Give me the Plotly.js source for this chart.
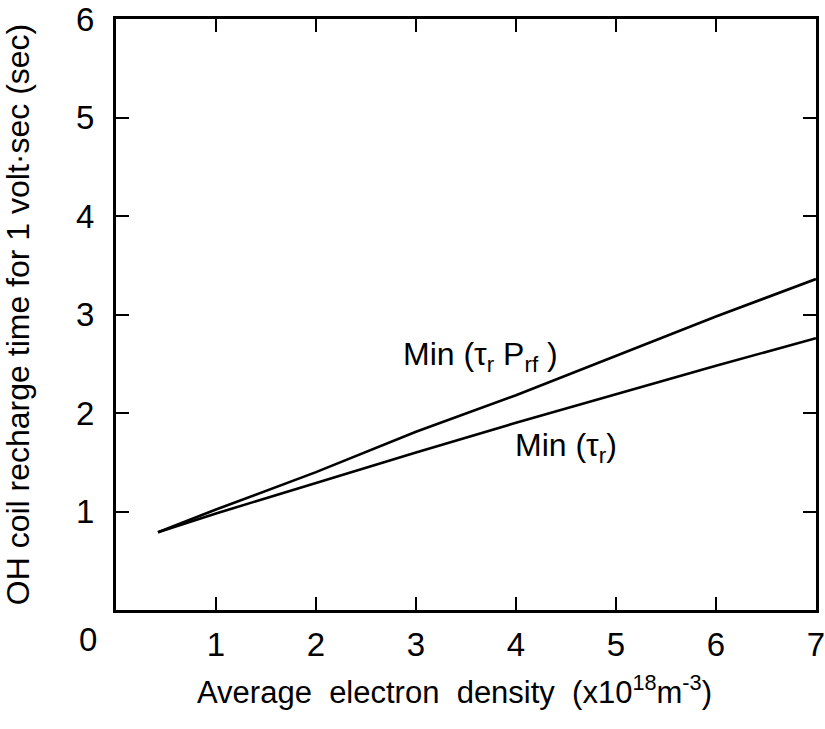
<!DOCTYPE html>
<html>
<head>
<meta charset="utf-8">
<script src="https://cdn.plot.ly/plotly-3.0.1.min.js"></script>
<style>
  html, body { margin: 0; padding: 0; background: #ffffff; }
  #chart { width: 825px; height: 729px; }
</style>
</head>
<body>
<div id="chart"></div>
<script>
// Average electron density (x10^18 m^-3)
const density = [0.42, 1, 2, 3, 4, 5, 6, 7];

// OH coil recharge time for 1 volt-sec (sec)
const minTauPrf = [0.79, 1.02, 1.40, 1.81, 2.18, 2.58, 2.98, 3.36];
const minTau    = [0.79, 0.98, 1.29, 1.60, 1.90, 2.19, 2.48, 2.76];

const seriesLabels = ['Min (τ<sub>r</sub> P<sub>rf</sub> )', 'Min (τ<sub>r</sub>)'];

const xTicks = [1, 2, 3, 4, 5, 6, 7];
const xTickText = ['1', '2', '3', '4', '5', '6', '7'];
const yTicks = [1, 2, 3, 4, 5, 6];
const yTickText = ['1', '2', '3', '4', '5', '6'];
const originLabel = '0';

const xTitle = 'Average&nbsp; electron&nbsp; density&nbsp; (x10<sup>18</sup>m<sup>-3</sup>)';
const yTitle = 'OH coil recharge time for 1 volt·sec (sec)';

const face = 'Liberation Sans, Arial, sans-serif';

const traces = [
  { x: density, y: minTauPrf, mode: 'lines', line: { color: '#000', width: 2.6 }, hoverinfo: 'skip', name: seriesLabels[0] },
  { x: density, y: minTau,    mode: 'lines', line: { color: '#000', width: 2.6 }, hoverinfo: 'skip', name: seriesLabels[1] }
];

const axisCommon = {
  showgrid: false,
  zeroline: false,
  showline: true,
  linecolor: '#000',
  linewidth: 3,
  mirror: 'ticks',
  ticks: 'inside',
  ticklen: 13,
  tickwidth: 2,
  tickcolor: '#000',
  tickfont: { family: face, size: 33, color: '#000' },
  tickmode: 'array',
  ticklabeloverflow: 'allow'
};

const layout = {
  width: 825,
  height: 729,
  margin: { l: 116, r: 9, t: 19, b: 119 },
  paper_bgcolor: '#fff',
  plot_bgcolor: '#fff',
  showlegend: false,
  xaxis: Object.assign({}, axisCommon, {
    range: [0, 7.0005],
    tickvals: xTicks,
    ticktext: xTickText,
    ticklabelstandoff: 3
  }),
  yaxis: Object.assign({}, axisCommon, {
    range: [0, 6.0005],
    tickvals: yTicks,
    ticktext: yTickText,
    ticklabelstandoff: 12,
    title: { text: yTitle, font: { family: face, size: 32, color: '#000' }, standoff: 37 }
  }),
  annotations: [
    // axis title for the density axis, centred under the numbers
    { x: 0.484, y: -0.135, xref: 'paper', yref: 'paper', text: xTitle, showarrow: false,
      xanchor: 'center', yanchor: 'middle',
      font: { family: face, size: 31, color: '#000' } },
    { x: 0, y: 0, xref: 'x', yref: 'y', text: originLabel, showarrow: false,
      xanchor: 'center', yanchor: 'top', xshift: -28, yshift: -9,
      font: { family: face, size: 33, color: '#000' } },
    { x: 3.65, y: 2.57, xref: 'x', yref: 'y', text: seriesLabels[0], showarrow: false,
      xanchor: 'center', yanchor: 'middle',
      font: { family: face, size: 32, color: '#000' } },
    { x: 4.50, y: 1.65, xref: 'x', yref: 'y', text: seriesLabels[1], showarrow: false,
      xanchor: 'center', yanchor: 'middle',
      font: { family: face, size: 32, color: '#000' } }
  ]
};

Plotly.newPlot('chart', traces, layout, { staticPlot: true, displayModeBar: false });
</script>
</body>
</html>
